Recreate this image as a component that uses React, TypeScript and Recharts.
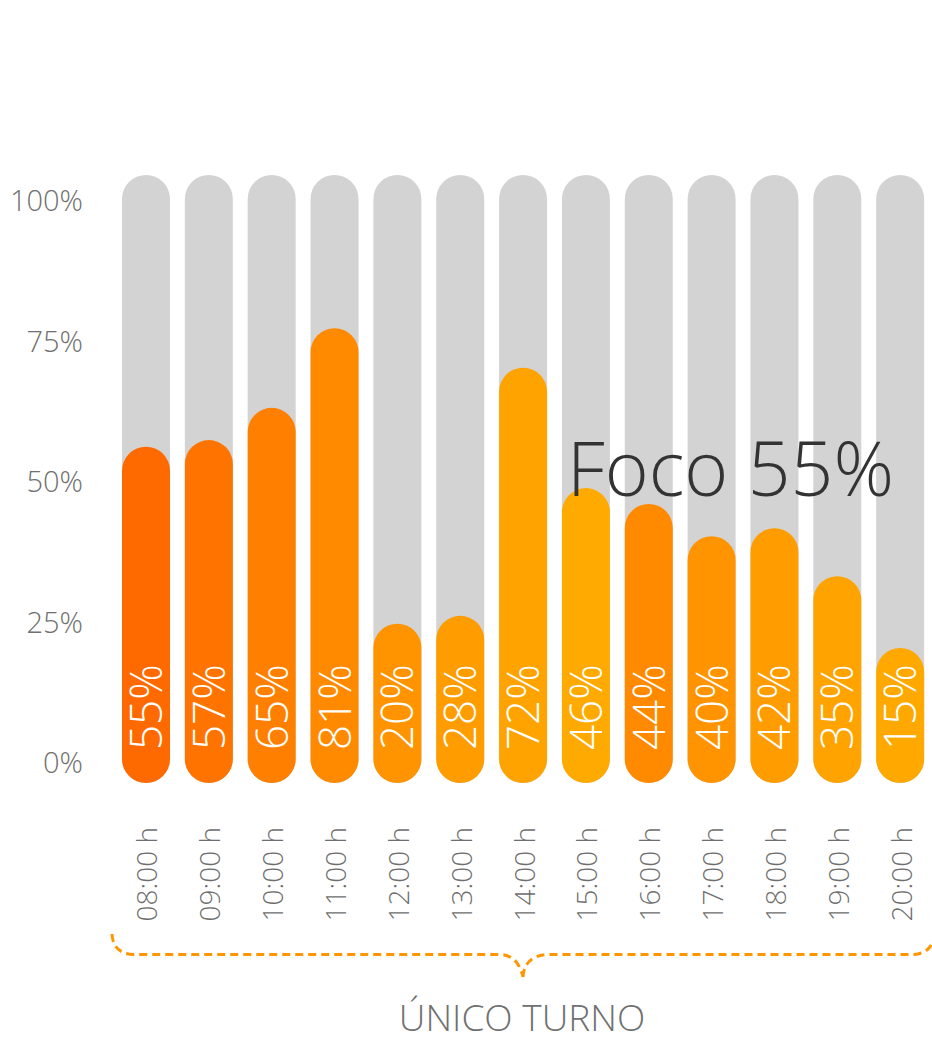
import React from 'react';
import { BarChart, Bar, XAxis, YAxis, Cell, LabelList } from 'recharts';

const hours = ['08:00 h', '09:00 h', '10:00 h', '11:00 h', '12:00 h', '13:00 h', '14:00 h', '15:00 h', '16:00 h', '17:00 h', '18:00 h', '19:00 h', '20:00 h'];
const percentLabels = [55, 57, 65, 81, 20, 28, 72, 46, 44, 40, 42, 35, 15];
const barHeights = [55.3, 56.4, 61.7, 74.8, 26.2, 27.5, 68.3, 48.5, 45.9, 40.6, 41.9, 34.0, 22.2];
const trackValues = [100, 100, 100, 100, 100, 100, 100, 100, 100, 100, 100, 100, 100];
const yTicks = [0, 25, 50, 75, 100];
const focoLabel = 'Foco 55%';
const groupLabel = 'ÚNICO TURNO';

const COLORS = ['#FF6A00', '#FF7400', '#FF7F00', '#FF8A00', '#FF9400', '#FF9C00', '#FFA300', '#FFAA00', '#FF8A00', '#FF9400', '#FF9C00', '#FFA300', '#FFA900'];

const data = hours.map((h, i) => ({
  hour: h,
  value: barHeights[i],
  label: percentLabels[i],
  track: trackValues[i],
}));

const FONT = "'Open Sans', 'Noto Sans', sans-serif";

const XTick = (props: any) => {
  const { x, y, payload } = props;
  return (
    <text
      x={x}
      y={y}
      dy={11}
      transform={`rotate(-90 ${x} ${y})`}
      textAnchor="end"
      fill="#6E6E6E"
      fontSize={28}
      fontWeight={300}
      fontFamily={FONT}
    >
      {payload.value}
    </text>
  );
};

const BarLabel = (props: any) => {
  const { x, y, width, height, value } = props;
  const cx = x + width / 2;
  const by = y + height - 33;
  return (
    <text
      x={cx}
      y={by}
      dy={16}
      transform={`rotate(-90 ${cx} ${by})`}
      textAnchor="start"
      fill="#FFFFFF"
      fontSize={44}
      fontWeight={300}
      fontFamily={FONT}
    >
      {`${value}%`}
    </text>
  );
};

export default function App() {
  return (
    <div style={{ position: 'absolute', left: 0, top: 0, width: 932, height: 1040, background: '#fff' }}>
      <BarChart
        width={932}
        height={1040}
        data={data}
        margin={{ top: 175, right: 0, bottom: 157, left: 0 }}
        barCategoryGap={15}
      >
        <XAxis xAxisId="bg" dataKey="hour" hide height={0} />
        <XAxis
          xAxisId="main"
          dataKey="hour"
          axisLine={false}
          tickLine={false}
          tickSize={0}
          tickMargin={44}
          interval={0}
          tick={<XTick />}
          height={100}
        />
        <YAxis yAxisId="bar" domain={[0, 100]} hide width={0} />
        <YAxis
          yAxisId="ticks"
          width={115}
          domain={[-3.559, 104.626]}
          ticks={yTicks}
          allowDataOverflow
          axisLine={false}
          tickLine={false}
          tickSize={0}
          tickMargin={32}
          tickFormatter={(v: number) => `${v}%`}
          tick={{ fill: '#707070', fontSize: 29, fontWeight: 300, fontFamily: FONT }}
        />
        <Bar
          xAxisId="bg"
          yAxisId="bar"
          dataKey="track"
          barSize={48}
          fill="#D3D3D3"
          radius={[24, 24, 24, 24]}
          isAnimationActive={false}
        />
        <Bar
          xAxisId="main"
          yAxisId="bar"
          dataKey="value"
          barSize={48}
          radius={[24, 24, 24, 24]}
          isAnimationActive={false}
        >
          {data.map((d, i) => (
            <Cell key={d.hour} fill={COLORS[i]} />
          ))}
          <LabelList dataKey="label" content={<BarLabel />} />
        </Bar>
      </BarChart>
      <svg
        width={932}
        height={1040}
        style={{ position: 'absolute', left: 0, top: 0, pointerEvents: 'none' }}
      >
        <text x={567} y={496} fill="#333333" fontSize={75} fontWeight={300} fontFamily={FONT}>
          {focoLabel}
        </text>
        <path
          d="M112,934 Q113,954 134,954.5 L500,954.5 Q518,955 523,977 M523,977 Q524,957 546,954.5 L914,954.5 Q930,953 933,940"
          fill="none"
          stroke="#FF9500"
          strokeWidth={3}
          strokeDasharray="8 5"
        />
        <text x={522} y={1031} textAnchor="middle" fill="#707070" fontSize={37} fontWeight={300} fontFamily={FONT}>
          {groupLabel}
        </text>
      </svg>
    </div>
  );
}
